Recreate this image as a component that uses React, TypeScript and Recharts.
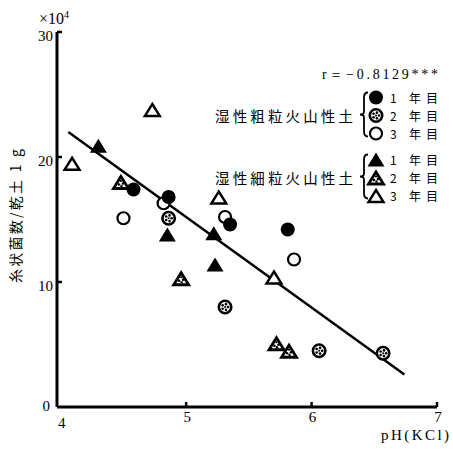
import React from "react";
import { ScatterChart, Scatter, XAxis, YAxis, ReferenceLine, Legend, Label } from "recharts";

type Pt = { ph: number; count: number };

// 湿性粗粒火山性土 (coarse), 湿性細粒火山性土 (fine); count in ×10^4 per 1 g dry soil
const coarseYear1: Pt[] = [
  { ph: 4.58, count: 17.4 },
  { ph: 4.86, count: 16.8 },
  { ph: 5.35, count: 14.6 },
  { ph: 5.81, count: 14.2 },
];
const coarseYear2: Pt[] = [
  { ph: 4.86, count: 15.1 },
  { ph: 5.31, count: 8.0 },
  { ph: 6.06, count: 4.5 },
  { ph: 6.57, count: 4.3 },
];
const coarseYear3: Pt[] = [
  { ph: 4.5, count: 15.1 },
  { ph: 4.82, count: 16.3 },
  { ph: 5.31, count: 15.2 },
  { ph: 5.86, count: 11.8 },
];
const fineYear1: Pt[] = [
  { ph: 4.3, count: 20.9 },
  { ph: 4.85, count: 13.8 },
  { ph: 5.22, count: 13.9 },
  { ph: 5.23, count: 11.4 },
];
const fineYear2: Pt[] = [
  { ph: 4.48, count: 18.0 },
  { ph: 4.96, count: 10.3 },
  { ph: 5.72, count: 5.1 },
  { ph: 5.82, count: 4.5 },
];
const fineYear3: Pt[] = [
  { ph: 4.09, count: 19.5 },
  { ph: 4.73, count: 23.8 },
  { ph: 5.26, count: 16.8 },
  { ph: 5.7, count: 10.4 },
];

// fitted regression line ends
const fitLine = [
  { x: 4.06, y: 22.0 },
  { x: 6.74, y: 2.6 },
];

const xTicks = [4, 5, 6, 7];
const yTicks = [0, 10, 20, 30];
const yearLabels = ["1 年目", "2 年目", "3 年目"];
const soilLabels = ["湿性粗粒火山性土", "湿性細粒火山性土"];
const rText = "r＝−0.8129***";

const W = 453;
const H = 449;
const PLOT_LEFT = 57;
const PLOT_BOTTOM = 407;
const SERIF = "'Liberation Serif', 'DejaVu Serif', serif";
const JP = "'Noto Sans CJK JP', sans-serif";

// ---- marker shapes ----
const dots = (cx: number, cy: number, r: number) =>
  [0, 72, 144, 216, 288].map((a) => (
    <circle
      key={a}
      cx={cx + r * Math.cos((a * Math.PI) / 180)}
      cy={cy + r * Math.sin((a * Math.PI) / 180)}
      r={1.3}
      fill="#000"
    />
  ));

const FilledCircle = ({ cx, cy }: any) => <circle cx={cx} cy={cy} r={7} fill="#000" />;
const OpenCircle = ({ cx, cy }: any) => (
  <circle cx={cx} cy={cy} r={6} fill="#fff" stroke="#000" strokeWidth={2.2} />
);
const DotCircle = ({ cx, cy }: any) => (
  <g>
    <circle cx={cx} cy={cy} r={6.2} fill="#fff" stroke="#000" strokeWidth={2.6} />
    {dots(cx, cy, 3)}
    <circle cx={cx} cy={cy} r={1} fill="#000" />
  </g>
);

const tri = (cx: number, cy: number, w: number, h: number) =>
  `${cx},${cy - h / 2} ${cx + w / 2},${cy + h / 2} ${cx - w / 2},${cy + h / 2}`;

const FilledTri = ({ cx, cy }: any) => <polygon points={tri(cx, cy, 17, 14)} fill="#000" />;
const OpenTri = ({ cx, cy }: any) => (
  <polygon points={tri(cx, cy + 0.5, 15, 12)} fill="#fff" stroke="#000" strokeWidth={2.4} />
);
const DotTri = ({ cx, cy }: any) => (
  <g>
    <polygon points={tri(cx, cy + 0.5, 15, 12)} fill="#fff" stroke="#000" strokeWidth={2.8} />
    <circle cx={cx - 2} cy={cy + 2.5} r={1.3} fill="#000" />
    <circle cx={cx + 2} cy={cy + 1.5} r={1.3} fill="#000" />
    <circle cx={cx + 0.5} cy={cy + 4} r={1.2} fill="#000" />
    <circle cx={cx} cy={cy - 1} r={1.1} fill="#000" />
  </g>
);

// ---- axis ticks ----
const YTick = ({ y, payload }: any) => {
  const v = payload.value;
  return (
    <g>
      {v !== 0 && (
        <line x1={PLOT_LEFT} x2={PLOT_LEFT + 5} y1={y} y2={y} stroke="#000" strokeWidth={2.5} />
      )}
      <text
        x={v === 0 ? 50 : 53}
        y={v === 0 ? y + 4 : y + 9}
        textAnchor="end"
        fontFamily={SERIF}
        fontSize={15}
        fill="#000"
      >
        {v}
      </text>
      {v === 30 && (
        <text x={39} y={y - 8} fontFamily={SERIF} fontSize={16} fill="#000">
          ×10
          <tspan dy={-6} fontSize={10}>
            4
          </tspan>
        </text>
      )}
    </g>
  );
};

const XTick = ({ x, payload }: any) => {
  const v = payload.value;
  return (
    <g>
      {v !== 4 && (
        <line x1={x} x2={x} y1={PLOT_BOTTOM} y2={PLOT_BOTTOM - 5} stroke="#000" strokeWidth={2.5} />
      )}
      <text
        x={x + 1}
        y={v === 4 ? 428 : 422}
        textAnchor="middle"
        fontFamily={SERIF}
        fontSize={15}
        fill="#000"
      >
        {v}
      </text>
    </g>
  );
};

// ---- legend ----
const brace = (x: number, top: number, bot: number) => {
  const mid = (top + bot) / 2;
  return `M${x + 4},${top} Q${x},${top} ${x},${top + 5} L${x},${mid - 3} Q${x},${mid} ${x - 4},${mid} Q${x},${mid} ${x},${mid + 3} L${x},${bot - 5} Q${x},${bot} ${x + 4},${bot}`;
};

const legendGroups = [
  { label: soilLabels[0], rows: [97.5, 115.5, 133.5], shapes: [FilledCircle, DotCircle, OpenCircle] },
  { label: soilLabels[1], rows: [159.5, 177.5, 195.5], shapes: [FilledTri, DotTri, OpenTri] },
];

const renderLegend = () => (
  <svg width={W} height={H} style={{ position: "absolute", left: 0, top: 0 }}>
    <text x={322} y={79} fontFamily={SERIF} fontSize={14} fill="#000" textLength={116}>
      {rText}
    </text>
    {legendGroups.map((g) => (
      <g key={g.label}>
        <text
          x={215}
          y={g.rows[1] + 6}
          fontFamily={JP}
          fontSize={14.5}
          fill="#000"
          textLength={138}
        >
          {g.label}
        </text>
        <path d={brace(364, g.rows[0] - 5, g.rows[2] + 3)} fill="none" stroke="#000" strokeWidth={1.8} />
        {g.shapes.map((S, i) => (
          <g key={i}>
            <S cx={376} cy={g.rows[i]} />
            <text x={390} y={g.rows[i] + 5} fontFamily={JP} fontSize={12} fill="#000" textLength={48}>
              {yearLabels[i]}
            </text>
          </g>
        ))}
      </g>
    ))}
  </svg>
);

const App = () => {
  return (
    <div style={{ position: "absolute", left: 0, top: 0, width: W, height: H, background: "#fff" }}>
      <ScatterChart width={W} height={H} margin={{ top: 32, right: 16, left: 0, bottom: 0 }}>
        <XAxis
          type="number"
          dataKey="ph"
          domain={[3.97, 7]}
          ticks={xTicks}
          allowDataOverflow
          height={42}
          tickLine={false}
          axisLine={{ stroke: "#000", strokeWidth: 3 }}
          tick={<XTick />}
        >
          <Label
            content={() => (
              <text x={381} y={440} fontFamily={SERIF} fontSize={15} fill="#000" textLength={68}>
                pH(KCl)
              </text>
            )}
          />
        </XAxis>
        <YAxis
          type="number"
          dataKey="count"
          domain={[0, 30]}
          ticks={yTicks}
          allowDataOverflow
          width={57}
          tickLine={false}
          axisLine={{ stroke: "#000", strokeWidth: 3 }}
          tick={<YTick />}
        >
          <Label
            content={() => (
              <text
                x={15}
                y={216}
                transform="rotate(-90 15 216)"
                textAnchor="middle"
                dominantBaseline="central"
                fontFamily={JP}
                fontSize={14}
                fill="#000"
                textLength={134}
              >
                糸状菌数/乾土 1 g
              </text>
            )}
          />
        </YAxis>
        <ReferenceLine segment={fitLine} stroke="#000" strokeWidth={2.5} ifOverflow="visible" />
        <Scatter data={coarseYear3} shape={<OpenCircle />} isAnimationActive={false} />
        <Scatter data={coarseYear1} shape={<FilledCircle />} isAnimationActive={false} />
        <Scatter data={coarseYear2} shape={<DotCircle />} isAnimationActive={false} />
        <Scatter data={fineYear1} shape={<FilledTri />} isAnimationActive={false} />
        <Scatter data={fineYear2} shape={<DotTri />} isAnimationActive={false} />
        <Scatter data={fineYear3} shape={<OpenTri />} isAnimationActive={false} />
        <Legend
          verticalAlign="middle"
          layout="horizontal"
          content={renderLegend}
          wrapperStyle={{ left: 0, top: 0, width: W, height: H, pointerEvents: "none" }}
        />
      </ScatterChart>
    </div>
  );
};

export default App;
